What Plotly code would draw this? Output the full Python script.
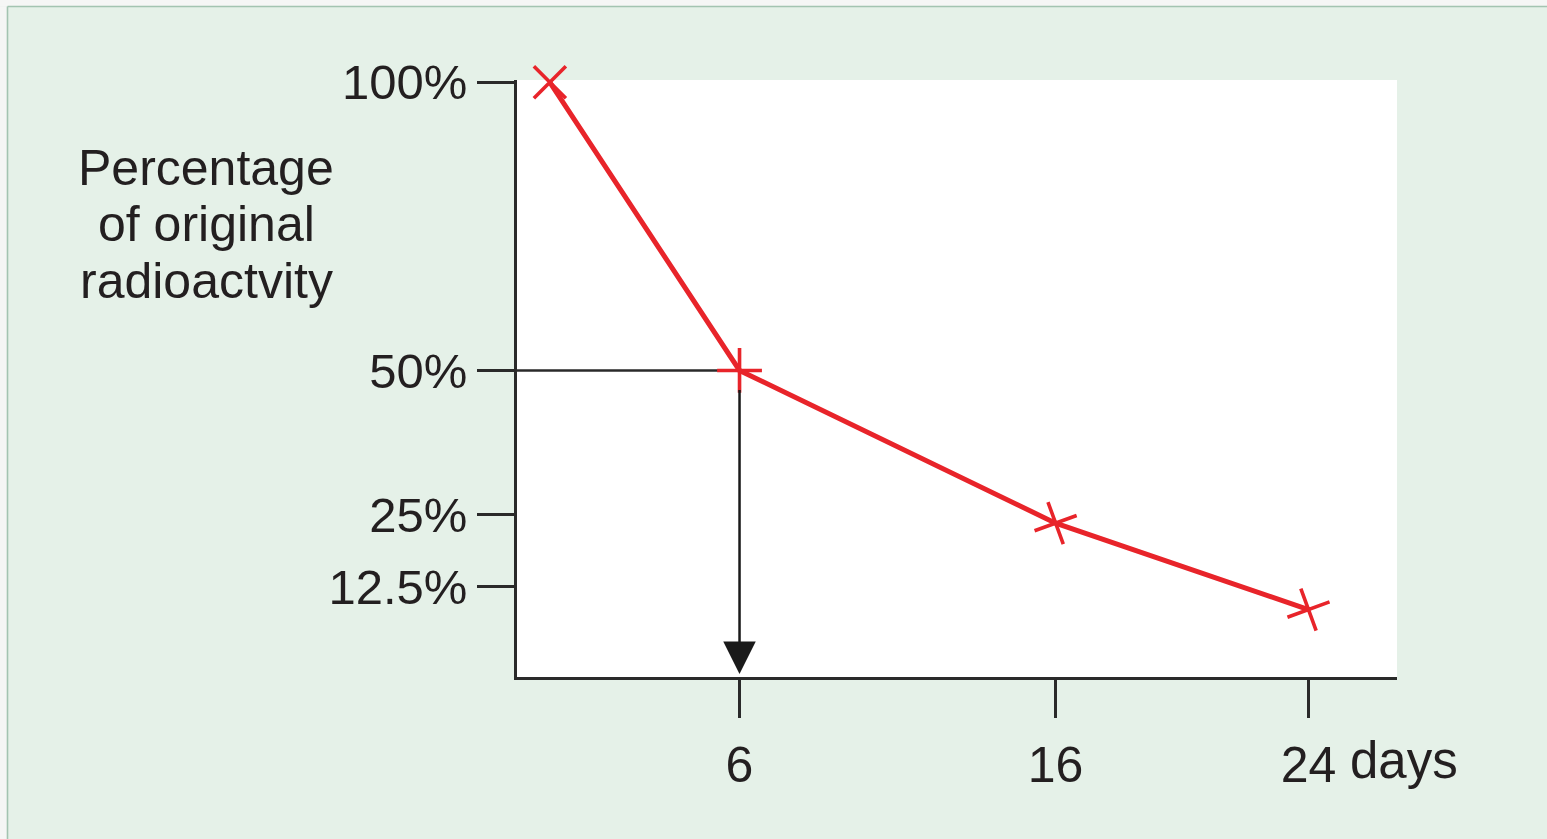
import plotly.graph_objects as go

# ---- data ----
days = [0, 6, 16, 24]
activity_pct = [100, 50, 23.5, 8.5]
x_tick_vals = [6, 16, 24]
x_tick_text = ["6", "16", "24"]
y_tick_vals = [100, 50, 25, 12.5]
y_tick_text = ["100%", "50%", "25%", "12.5%"]
half_life_day = 6
half_life_pct = 50
y_title_lines = ["Percentage", "of original", "radioactvity"]
x_unit = "days"

# ---- styling ----
FONT = "Liberation Sans, Arial, Helvetica, sans-serif"
INK = "#2a2a2a"
TEXT = "#231f20"
RED = "#e8242a"
GREEN = "#e5f1e8"
PAGE = "#f5f6f5"
FRAME = "#a3c4b1"
x_range = [-1.04, 26.8]
y_range = [-3.2, 100.4]

W, H = 1547, 839
PL, PR, PT, PB = 517, 1397, 80, 677
PW, PH = PR - PL, PB - PT
FX, FY = 7.5, 6.5  # frame edge (left, top) in pixels


def px_x(x):
    return (x - PL) / PW


def px_y(y):
    return (PB - y) / PH


fig = go.Figure()

fig.add_trace(go.Scatter(
    x=days, y=activity_pct, mode="lines+markers",
    line=dict(color=RED, width=5),
    marker=dict(symbol=["x-thin", "cross-thin", "cross-thin", "cross-thin"],
                angle=[0, 0, -20, -20],
                size=32, line=dict(color=RED, width=3.6), color=RED),
    cliponaxis=False, showlegend=False, hoverinfo="x+y",
))

# horizontal guide at the half-life level
fig.add_shape(type="line", xref="x", yref="y",
              x0=x_range[0], x1=half_life_day, y0=half_life_pct, y1=half_life_pct,
              line=dict(color=INK, width=2.5), layer="below")

# vertical arrow down to the time axis
fig.add_annotation(x=half_life_day, y=y_range[0], ax=half_life_day, ay=half_life_pct,
                   xref="x", yref="y", axref="x", ayref="y", text="",
                   showarrow=True, arrowhead=2, arrowsize=2.6, arrowwidth=2.5,
                   arrowcolor="#1a1a1a", startstandoff=18, standoff=3)

# light page strips outside the green panel, and the panel's frame line
fig.add_shape(type="rect", xref="paper", yref="paper",
              x0=px_x(-20), x1=px_x(W + 20), y0=px_y(FY), y1=px_y(-20),
              fillcolor=PAGE, line=dict(width=0), layer="below")
fig.add_shape(type="rect", xref="paper", yref="paper",
              x0=px_x(-20), x1=px_x(FX), y0=px_y(H + 20), y1=px_y(FY),
              fillcolor=PAGE, line=dict(width=0), layer="below")
fig.add_shape(type="line", xref="paper", yref="paper",
              x0=px_x(FX), x1=px_x(W + 20), y0=px_y(FY), y1=px_y(FY),
              line=dict(color=FRAME, width=1.6))
fig.add_shape(type="line", xref="paper", yref="paper",
              x0=px_x(FX), x1=px_x(FX), y0=px_y(H + 20), y1=px_y(FY),
              line=dict(color=FRAME, width=1.6))

# multi-line y title
for i, line in enumerate(y_title_lines):
    fig.add_annotation(text=line, xref="paper", yref="paper",
                       x=px_x(206), y=px_y(224.5 + (i - 1) * 56.5),
                       xanchor="center", yanchor="middle", showarrow=False,
                       font=dict(family=FONT, size=50, color=TEXT))

fig.add_annotation(text=x_unit, xref="x", yref="paper", x=x_tick_vals[-1], y=0,
                   xanchor="left", yanchor="middle", xshift=40, yshift=-83,
                   showarrow=False, font=dict(family=FONT, size=51, color=TEXT))

fig.update_xaxes(range=x_range, tickvals=x_tick_vals, ticktext=x_tick_text,
                 ticks="outside", ticklen=38, tickwidth=2.5, tickcolor=INK,
                 ticklabelstandoff=4,
                 showline=True, linecolor=INK, linewidth=2.5, showgrid=False,
                 zeroline=False, tickfont=dict(family=FONT, size=50, color=TEXT))
fig.update_yaxes(range=y_range, tickvals=y_tick_vals, ticktext=y_tick_text,
                 ticks="outside", ticklen=37, tickwidth=2.5, tickcolor=INK,
                 showline=True, linecolor=INK, linewidth=2.5, showgrid=False,
                 zeroline=False, tickfont=dict(family=FONT, size=49, color=TEXT))

fig.update_layout(
    width=W, height=H, autosize=False,
    margin=dict(l=PL, r=W - PR, t=PT, b=H - PB),
    paper_bgcolor=GREEN, plot_bgcolor="white",
    font=dict(family=FONT, color=TEXT),
)

fig.write_html("out.html", config={"displayModeBar": False},
               post_script="document.body.style.margin='0';"
                           "document.body.style.overflow='hidden';")
